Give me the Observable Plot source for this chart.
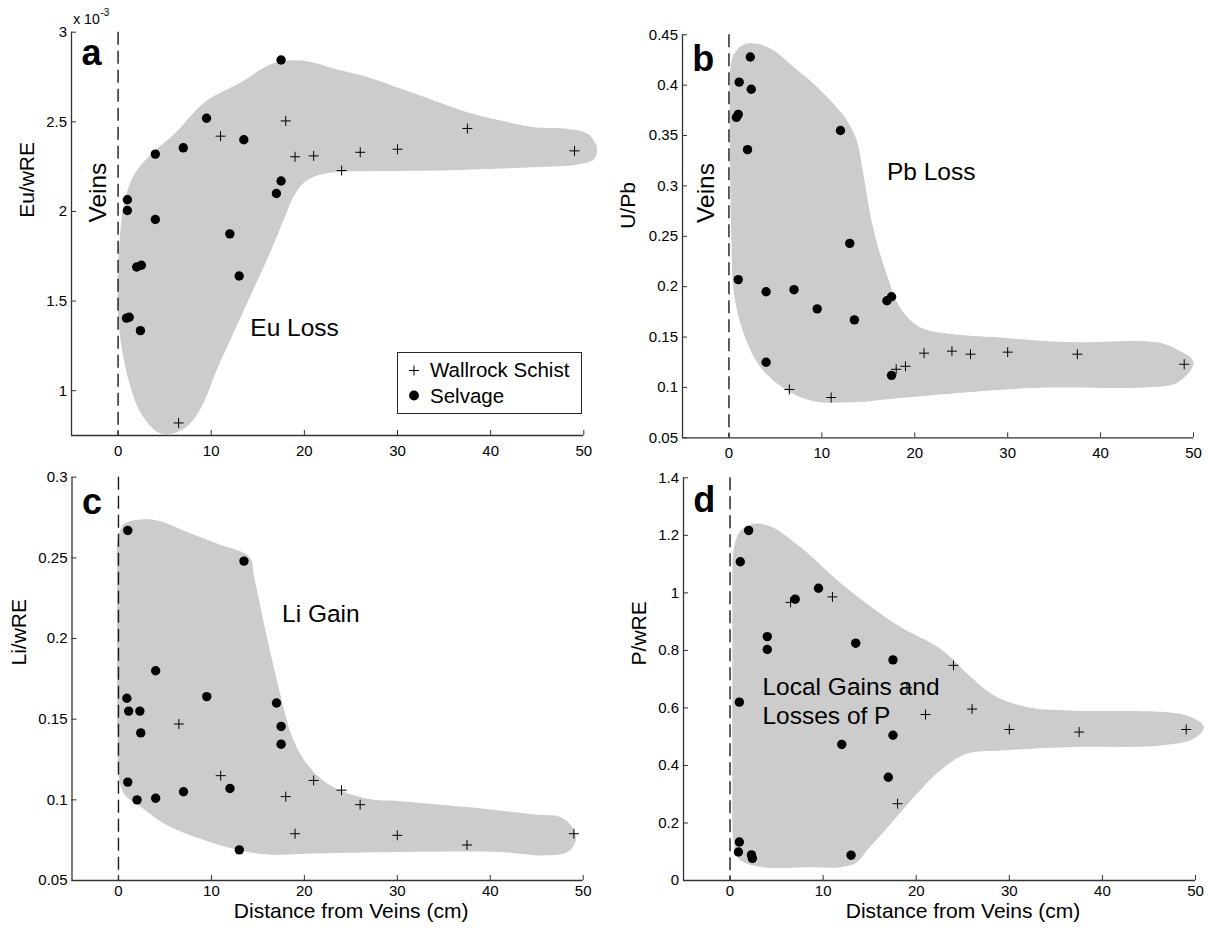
<!DOCTYPE html>
<html>
<head>
<meta charset="utf-8">
<script src="https://cdn.jsdelivr.net/npm/d3@7"></script>
<script src="https://cdn.jsdelivr.net/npm/@observablehq/plot@0.6"></script>
<style>
html, body { margin: 0; padding: 0; background: #fff; }
#fig { position: relative; width: 1208px; height: 928px; overflow: hidden; background: #fff;
       font-family: "Liberation Sans", Arial, Helvetica, sans-serif; }
#fig > svg { position: absolute; }
#legend { position: absolute; left: 397px; top: 352px; width: 183px; height: 60px;
          border: 1px solid #262626; background: #fff; font-size: 20.5px; color: #000; }
#legend span { position: absolute; left: 32px; line-height: 20px; white-space: nowrap; }
</style>
</head>
<body>
<div id="fig"></div>
<script>
// ---------- shared axis data ----------
const xDomain = [-5, 50];
const xTicks = [0, 10, 20, 30, 40, 50];
const xLabel = "Distance from Veins (cm)";

// Wallrock Schist sample distances (cm)
const wallX = [6.5, 11, 18, 19, 21, 24, 26, 30, 37.5, 49];

// ---------- panel a : Eu/wRE (x 10^-3) ----------
const euDomain = [0.75, 3];
const euTicks = [1, 1.5, 2, 2.5, 3];
const euWallY = [0.82, 2.42, 2.505, 2.305, 2.31, 2.228, 2.33, 2.347, 2.463, 2.338];
const euSelvX = [0.9, 1.2, 1, 1, 2, 2.5, 2.4, 4, 4, 7, 9.5, 12, 13, 13.5, 17, 17.5, 17.5];
const euSelvY = [1.405, 1.41, 2.065, 2.005, 1.69, 1.70, 1.335, 2.32, 1.955, 2.355, 2.52, 1.875, 1.64, 2.40, 2.10, 2.17, 2.845];
const euEnvX = [0.17, 0.7, 1.78, 3.57, 6.07, 9.28, 13.2, 16.1, 18.2, 20.4, 23.2, 26.8, 30.4, 33.9, 37.5, 41.1, 44.7, 48.2, 50.4, 51.4, 51.1, 49.3, 44.7, 33.9, 26.8, 23.2, 21.4, 20, 18.9, 17.9, 16.1, 14.3, 12.5, 10.7, 8.93, 7.5, 5.7, 4.29, 2.5, 1.24, 0.17, -0.07];
const euEnvY = [1.838, 2.061, 2.21, 2.321, 2.433, 2.609, 2.721, 2.814, 2.842, 2.838, 2.796, 2.749, 2.684, 2.619, 2.554, 2.507, 2.47, 2.461, 2.433, 2.358, 2.293, 2.262, 2.247, 2.228, 2.224, 2.219, 2.2, 2.163, 2.089, 1.968, 1.744, 1.54, 1.335, 1.13, 0.907, 0.805, 0.759, 0.768, 0.87, 1.038, 1.317, 1.596];

// ---------- panel b : U/Pb ----------
const pbDomain = [0.05, 0.45];
const pbTicks = [0.05, 0.1, 0.15, 0.2, 0.25, 0.3, 0.35, 0.4, 0.45];
const pbWallY = [0.098, 0.090, 0.118, 0.121, 0.134, 0.136, 0.133, 0.135, 0.133, 0.123];
const pbSelvX = [0.8, 1, 1, 1.1, 2, 2.3, 2.4, 4, 4, 7, 9.5, 12, 13, 13.5, 17, 17.5, 17.5];
const pbSelvY = [0.368, 0.371, 0.207, 0.403, 0.336, 0.428, 0.396, 0.195, 0.125, 0.197, 0.178, 0.355, 0.243, 0.167, 0.186, 0.19, 0.112];
const pbEnvX = [0.18, 0.54, 1.6, 3.04, 4.82, 6.96, 9.1, 11.25, 12.7, 13.75, 14.46, 15.5, 16.96, 18.4, 20.5, 23.75, 29.1, 36.3, 45.9, 48.06, 50.0, 48.4, 45.55, 32.7, 18.4, 13.4, 9.1, 6.25, 3.4, 1.6, 0.54, 0.25, 0.1];
const pbEnvY = [0.418, 0.431, 0.4404, 0.441, 0.4344, 0.418, 0.4014, 0.3815, 0.365, 0.345, 0.312, 0.259, 0.2127, 0.1797, 0.16, 0.1532, 0.1495, 0.145, 0.145, 0.1383, 0.125, 0.1055, 0.1003, 0.0995, 0.0896, 0.0853, 0.0864, 0.0969, 0.12, 0.1532, 0.1929, 0.2524, 0.3517];

// ---------- panel c : Li/wRE ----------
const liDomain = [0.05, 0.3];
const liTicks = [0.05, 0.1, 0.15, 0.2, 0.25, 0.3];
const liWallY = [0.147, 0.115, 0.102, 0.079, 0.112, 0.106, 0.097, 0.078, 0.072, 0.079];
const liSelvX = [0.9, 1, 1, 1.1, 2, 2.3, 2.4, 4, 4, 7, 9.5, 12, 13, 13.5, 17, 17.5, 17.5];
const liSelvY = [0.163, 0.267, 0.111, 0.155, 0.100, 0.155, 0.1415, 0.18, 0.101, 0.105, 0.164, 0.107, 0.069, 0.248, 0.160, 0.1455, 0.1345];
const liEnvX = [-0.1, 0.6, 2.4, 4.2, 7.43, 10.66, 14.1, 14.6, 16.05, 17.49, 18.56, 20.0, 22.5, 26.8, 30.35, 37.5, 44.7, 47.56, 48.8, 49.2, 48.3, 45.8, 41.1, 30.35, 19.6, 16.05, 12.46, 8.87, 5.28, 2.4, 0.6, 0, -0.1, -0.15, -0.15];
const liEnvY = [0.2607, 0.271, 0.2738, 0.2731, 0.2659, 0.2587, 0.2504, 0.238, 0.1988, 0.1636, 0.1409, 0.1244, 0.11, 0.1006, 0.0992, 0.0955, 0.0909, 0.0893, 0.0831, 0.0748, 0.0676, 0.0655, 0.0676, 0.0676, 0.0665, 0.0661, 0.0696, 0.0758, 0.0841, 0.0955, 0.1037, 0.116, 0.1368, 0.1988, 0.24];

// ---------- panel d : P/wRE ----------
const pDomain = [0, 1.4];
const pTicks = [0, 0.2, 0.4, 0.6, 0.8, 1, 1.2, 1.4];
const pWallY = [0.967, 0.986, 0.267, 0.670, 0.577, 0.748, 0.596, 0.525, 0.516, 0.525];
const pSelvX = [0.9, 1, 1, 1.1, 2, 2.3, 2.4, 4, 4, 7, 9.5, 12, 13, 13.5, 17, 17.5, 17.5];
const pSelvY = [0.099, 0.620, 0.134, 1.108, 1.217, 0.089, 0.077, 0.848, 0.803, 0.978, 1.016, 0.473, 0.088, 0.825, 0.359, 0.767, 0.505];
const pEnvX = [0.25, 0.43, 1.14, 2.57, 4.36, 7.57, 11.14, 14.7, 18.3, 22.6, 25.5, 28.36, 31.94, 36.24, 49.1, 50.9, 49.8, 46.26, 36.24, 29.1, 25.4, 22.57, 20.07, 17.57, 14.7, 13.64, 11.86, 8.29, 4.0, 1.86, 0.79, 0.36, 0.25, 0.25, 0.25];
const pEnvY = [1.0662, 1.159, 1.217, 1.24, 1.231, 1.159, 1.0546, 0.962, 0.881, 0.8055, 0.7186, 0.6432, 0.6027, 0.5911, 0.5737, 0.5331, 0.4926, 0.4694, 0.4636, 0.452, 0.4405, 0.3825, 0.3014, 0.2087, 0.1044, 0.0638, 0.0464, 0.0464, 0.044, 0.058, 0.081, 0.139, 0.371, 0.7186, 0.9504];

// ---------- drawing ----------
const FONT = '"Liberation Sans", Arial, Helvetica, sans-serif';
const AXIS = "#333333";
const cross = { draw(ctx, size) { const r = Math.sqrt(size / Math.PI);
  ctx.moveTo(-r, 0); ctx.lineTo(r, 0); ctx.moveTo(0, -r); ctx.lineTo(0, r); } };
const fmt = d => String(+(+d).toFixed(4));

function note(x, y, t, opts = {}) {
  return Plot.text([{x, y, t}], {x: "x", y: "y", text: "t", fontSize: 24.5, ...opts});
}

function makePanel(p) {
  const W = 604, H = 464;
  const fw = W - p.ml - p.mr, fh = H - p.mt - p.mb;
  const env = p.envX.map((x, i) => ({x, y: p.envY[i]}));
  const wall = wallX.map((x, i) => ({x, y: p.wallY[i]}));
  const selv = p.selvX.map((x, i) => ({x, y: p.selvY[i]}));
  const marks = [
    Plot.line(env, {x: "x", y: "y", curve: "catmull-rom-closed", fill: "#cccccc", stroke: "none"}),
    Plot.ruleX([0], {stroke: "#1a1a1a", strokeWidth: 1.4, strokeDasharray: "13,6"}),
    Plot.ruleX([xDomain[0]], {stroke: AXIS, strokeWidth: 1.3}),
    Plot.ruleY([p.yDomain[0]], {stroke: AXIS, strokeWidth: 1.3}),
    Plot.tickX(xTicks, {x: d => d, insetTop: fh - 5, stroke: AXIS}),
    Plot.tickY(p.yTicks, {y: d => d, insetRight: fw - 5, stroke: AXIS}),
    Plot.axisX(xTicks, {tickSize: 0, tickPadding: p.xPad, tickFormat: fmt, label: null, fontSize: 15}),
    Plot.axisY(p.yTicks, {tickSize: 0, tickPadding: 4.5, tickFormat: fmt, label: null, fontSize: 15}),
    Plot.text([p.ylabel], {text: d => d, frameAnchor: "left", dx: p.ylDx, dy: p.ylDy, rotate: -90, fontSize: 21}),
    Plot.text([p.letter], {text: d => d, frameAnchor: "top-left", dx: p.letDx, dy: p.letDy,
      textAnchor: "start", lineAnchor: "bottom", fontSize: 36, fontWeight: "bold"}),
    ...(p.xlabel ? [Plot.text([p.xlabel], {text: d => d, frameAnchor: "bottom", dx: 23.5, dy: 37.5, fontSize: 21})] : []),
    ...p.extra,
    Plot.dot(wall, {x: "x", y: "y", r: 5, symbol: cross, stroke: "#000", fill: "none", strokeWidth: 1}),
    Plot.dot(selv, {x: "x", y: "y", r: 4.7, fill: "#000", stroke: "none"})
  ];
  const svg = Plot.plot({
    width: W, height: H,
    marginLeft: p.ml, marginRight: p.mr, marginTop: p.mt, marginBottom: p.mb,
    x: {domain: xDomain}, y: {domain: p.yDomain},
    style: {fontFamily: FONT, background: "transparent", overflow: "visible", color: "#000"},
    marks
  });
  svg.style.left = p.left + "px";
  svg.style.top = p.top + "px";
  return svg;
}

const fig = document.getElementById("fig");

fig.appendChild(makePanel({
  left: 0, top: 0, ml: 71, mr: 20.7, mt: 31.7, mb: 29, xPad: 9.5,
  yDomain: euDomain, yTicks: euTicks, wallY: euWallY, selvX: euSelvX, selvY: euSelvY,
  envX: euEnvX, envY: euEnvY,
  ylabel: "Eu/wRE", ylDx: -44.3, ylDy: -16, letter: "a", letDx: 10, letDy: 32.5,
  extra: [
    note(-2.14, 2.105, "Veins", {rotate: -90}),
    note(14.2, 1.35, "Eu Loss", {textAnchor: "start"}),
    Plot.text(["x 10"], {text: d => d, frameAnchor: "top-left", dx: 1.7, dy: -8.4,
      textAnchor: "start", lineAnchor: "bottom", fontSize: 14}),
    Plot.text(["-3"], {text: d => d, frameAnchor: "top-left", dx: 29, dy: -16.5,
      textAnchor: "start", lineAnchor: "bottom", fontSize: 10})
  ]
}));

fig.appendChild(makePanel({
  left: 604, top: 0, ml: 78, mr: 15, mt: 34.3, mb: 26.7, xPad: 9.5,
  yDomain: pbDomain, yTicks: pbTicks, wallY: pbWallY, selvX: pbSelvX, selvY: pbSelvY,
  envX: pbEnvX, envY: pbEnvY,
  ylabel: "U/Pb", ylDx: -54, ylDy: -7.5, letter: "b", letDx: 9.7, letDy: 35.7,
  extra: [
    note(-2.5, 0.293, "Veins", {rotate: -90}),
    note(17.0, 0.3133, "Pb Loss", {textAnchor: "start"})
  ]
}));

fig.appendChild(makePanel({
  left: 0, top: 464, ml: 71.5, mr: 21.3, mt: 12.7, mb: 48, xPad: 5,
  yDomain: liDomain, yTicks: liTicks, wallY: liWallY, selvX: liSelvX, selvY: liSelvY,
  envX: liEnvX, envY: liEnvY,
  ylabel: "Li/wRE", ylDx: -53.2, ylDy: -13.3, letter: "c", letDx: 10, letDy: 37,
  xlabel: xLabel,
  extra: [
    note(17.6, 0.2153, "Li Gain", {textAnchor: "start"})
  ]
}));

fig.appendChild(makePanel({
  left: 604, top: 464, ml: 79, mr: 13, mt: 13.3, mb: 48, xPad: 5,
  yDomain: pDomain, yTicks: pTicks, wallY: pWallY, selvX: pSelvX, selvY: pSelvY,
  envX: pEnvX, envY: pEnvY,
  ylabel: "P/wRE", ylDx: -44.7, ylDy: -13.7, letter: "d", letDx: 9.7, letDy: 34.5,
  xlabel: xLabel,
  extra: [
    note(3.48, 0.6275, "Local Gains and\nLosses of P", {textAnchor: "start", lineHeight: 1.2})
  ]
}));

// legend for panel a
const legend = document.createElement("div");
legend.id = "legend";
legend.innerHTML =
  '<svg width="183" height="60" style="position:absolute;left:0;top:0">' +
  '<path d="M11,17.5H21M16,12.5V22.5" stroke="#000" stroke-width="1" fill="none"/>' +
  '<circle cx="16" cy="42.5" r="4.9" fill="#000"/></svg>' +
  '<span style="top:6.5px">Wallrock Schist</span>' +
  '<span style="top:33px">Selvage</span>';
fig.appendChild(legend);
</script>
</body>
</html>
